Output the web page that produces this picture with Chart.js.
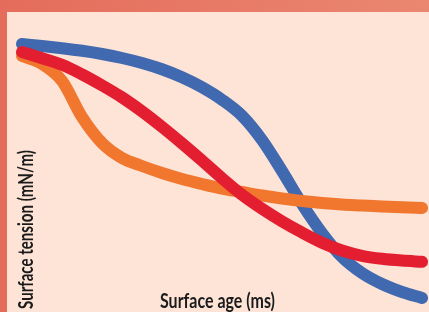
<!DOCTYPE html>
<html>
<head>
<meta charset="utf-8">
<script src="https://cdn.jsdelivr.net/npm/chart.js@4.4.1/dist/chart.umd.min.js"></script>
<style>
  html, body { margin: 0; padding: 0; }
  body {
    width: 429px; height: 312px; position: relative; overflow: hidden;
    background: linear-gradient(to right, #e46c5b, #ea8771);
  }
  .panel {
    position: absolute; left: 7px; top: 12px; right: 0; bottom: 0;
    background: #fde4d7;
  }
  .wrap { position: absolute; left: 0; top: 0; width: 429px; height: 312px; }
</style>
</head>
<body>
<div class="panel"></div>
<div class="wrap"><canvas id="chart"></canvas></div>
<script>
// surface age (arbitrary units, no ticks on the original)
var ages = [0, 5, 10, 15, 20, 25, 30, 35, 40, 45, 50, 55, 60, 65, 70, 75, 80, 85, 90, 95, 100];

// surface tension
var blueTension = [69.56, 69.22, 68.84, 68.40, 67.86, 67.18, 66.33, 65.26, 63.89, 62.19, 60.07,
                   57.35, 53.23, 47.96, 42.35, 37.41, 33.33, 30.61, 28.74, 27.38, 26.36];
var redTension = [68.20, 67.14, 66.02, 64.39, 62.52, 60.48, 58.10, 55.46, 52.65, 49.73, 46.73,
                  43.91, 41.53, 39.40, 37.50, 35.77, 34.44, 33.54, 33.03, 32.72, 32.52];
var orangeTension = [67.52, 66.16, 63.27, 57.14, 52.72, 50.17, 48.81, 47.62, 46.60, 45.75, 44.98,
                     44.39, 43.79, 43.28, 42.86, 42.52, 42.26, 42.09, 41.92, 41.78, 41.67];

var xTitle = 'Surface age (ms)';
var yTitle = 'Surface tension (mN/m)';
var titleFont = 'bold 21px Lato, "DejaVu Sans", sans-serif';

// the original uses a very condensed face, so the titles get squeezed sideways
var axisTitles = {
    id: 'axisTitles',
    afterDraw: function (chart) {
        var ctx = chart.ctx;
        var area = chart.chartArea;
        ctx.save();
        ctx.font = titleFont;
        ctx.fillStyle = '#1b1b1b';
        ctx.textBaseline = 'alphabetic';

        ctx.save();
        ctx.translate((area.left + area.right) / 2 - 4.5, chart.height - 4);
        ctx.scale(115 / ctx.measureText(xTitle).width, 1);
        ctx.textAlign = 'center';
        ctx.fillText(xTitle, 0, 0);
        ctx.restore();

        ctx.save();
        ctx.translate(area.left + 11, area.bottom + 3);
        ctx.rotate(-Math.PI / 2);
        ctx.scale(159 / ctx.measureText(yTitle).width, 1);
        ctx.textAlign = 'left';
        ctx.fillText(yTitle, 0, 0);
        ctx.restore();

        ctx.restore();
    }
};

function series(values, color) {
    return {
        data: values,
        borderColor: color,
        backgroundColor: color,
        borderWidth: 12,
        borderCapStyle: 'round',
        borderJoinStyle: 'round',
        pointRadius: 0,
        cubicInterpolationMode: 'monotone',
        clip: false
    };
}

new Chart(document.getElementById('chart'), {
    type: 'line',
    data: {
        labels: ages,
        // first dataset is drawn on top: red, then orange, blue underneath
        datasets: [
            series(redTension, '#e41e31'),
            series(orangeTension, '#f0772d'),
            series(blueTension, '#4169b0')
        ]
    },
    options: {
        responsive: true,
        maintainAspectRatio: false,
        animation: false,
        layout: { padding: { top: 12, right: 7, bottom: 6, left: 22 } },
        plugins: {
            legend: { display: false },
            tooltip: { enabled: false }
        },
        scales: {
            x: { type: 'linear', min: 0, max: 100, display: false },
            y: { min: 25, max: 75, display: false }
        }
    },
    plugins: [axisTitles]
});
</script>
</body>
</html>
